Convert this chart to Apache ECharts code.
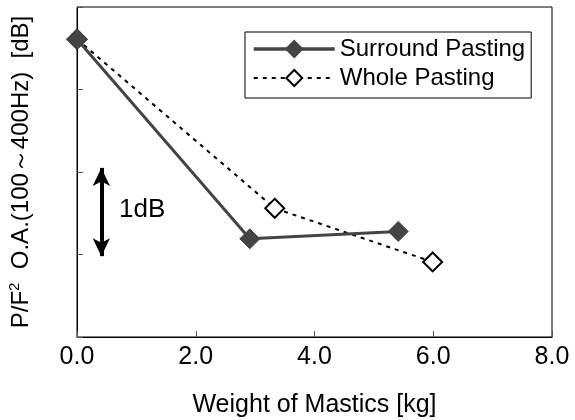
<!DOCTYPE html>
<html><head><meta charset="utf-8">
<script src="https://cdn.jsdelivr.net/npm/echarts@6/dist/echarts.min.js"></script>
<style>html,body{margin:0;padding:0;background:#fff}#c{width:575px;height:420px}</style>
</head><body><div id="c"></div>
<script>
var xTicks = [0, 2, 4, 6, 8];
var surroundX = [0.0, 2.91, 5.41];
var surroundY = [3.61, 1.19, 1.28];
var wholeX = [0.0, 3.33, 5.99];
var wholeY = [3.61, 1.56, 0.91];
var seriesNames = ['Surround Pasting', 'Whole Pasting'];
var arrowX = 0.41, arrowY = [0.98, 2.05];

function pairs(xs, ys){ return xs.map(function(x,i){ return [x, ys[i]]; }); }
var font = 'Liberation Sans, Arial, sans-serif';
var chart = echarts.init(document.getElementById('c'));
chart.setOption({
  animation: false,
  textStyle: {fontFamily: font},
  grid: {left: 77, right: 23, top: 7, bottom: 83, show: true, borderColor: '#000', borderWidth: 1,
    containLabel: false, outerBoundsMode: 'none'},
  legend: {
    orient: 'vertical', left: 245, top: 32,
    padding: [5, 6, 8, 7], itemWidth: 81, itemHeight: 20, itemGap: 5,
    borderColor: '#000', borderWidth: 1, borderRadius: 0, backgroundColor: '#fff',
    textStyle: {fontSize: 24, color: '#000', fontFamily: font, lineHeight: 24},
    data: [
      {name: seriesNames[0], lineStyle: {width: 3.5, color: '#444'}},
      {name: seriesNames[1], lineStyle: {width: 2, color: '#000', type: [4, 5]}}
    ]
  },
  xAxis: {
    type: 'value', min: 0, max: 8, interval: 2,
    name: 'Weight of Mastics [kg]', nameLocation: 'middle', nameGap: 56,
    nameTextStyle: {fontSize: 25, color: '#000', fontFamily: font},
    axisLine: {show: true, lineStyle: {color: '#000', width: 1}},
    axisTick: {show: true, inside: true, length: 6, lineStyle: {color: '#555'}},
    axisLabel: {fontSize: 25, color: '#000', margin: 8, fontFamily: font,
      formatter: function(v){ return v.toFixed(1); }},
    splitLine: {show: false}
  },
  yAxis: {
    type: 'value', min: 0, max: 4, interval: 1,
    name: '{a|P/F}{s|2}{a|  O.A.(100～400Hz)  [dB]}', nameLocation: 'middle', nameGap: 42,
    nameTextStyle: {color: '#000', fontFamily: font, rich: {
      a: {fontSize: 24, fontFamily: font, color: '#000', lineHeight: 28},
      s: {fontSize: 15, fontFamily: font, color: '#000', verticalAlign: 'top', lineHeight: 28, padding: [0,0,10,0]}
    }},
    axisLine: {show: true, lineStyle: {color: '#000', width: 1}},
    axisTick: {show: true, inside: true, length: 6, lineStyle: {color: '#555'}},
    axisLabel: {show: false},
    splitLine: {show: false}
  },
  graphic: [{type: 'text', left: 119, top: 197, style: {text: '1dB', fontSize: 26, fontFamily: font, fill: '#000'}}],
  series: [
    {
      name: seriesNames[0], type: 'line', data: pairs(surroundX, surroundY),
      symbol: 'diamond', symbolSize: 20, z: 3,
      lineStyle: {color: '#444', width: 3},
      itemStyle: {color: '#444', borderColor: '#444', borderWidth: 1},
      markLine: {
        silent: true, symbol: ['arrow', 'arrow'], symbolSize: [13, 18],
        lineStyle: {color: '#000', width: 4, type: 'solid'}, label: {show: false},
        data: [[{coord: [arrowX, arrowY[0]]}, {coord: [arrowX, arrowY[1]]}]]
      }
    },
    {
      name: seriesNames[1], type: 'line', data: pairs(wholeX, wholeY),
      symbol: 'diamond', symbolSize: 19, z: 2,
      lineStyle: {color: '#000', width: 2, type: [4, 5]},
      itemStyle: {color: '#fff', borderColor: '#000', borderWidth: 2}
    }
  ]
});
</script></body></html>
